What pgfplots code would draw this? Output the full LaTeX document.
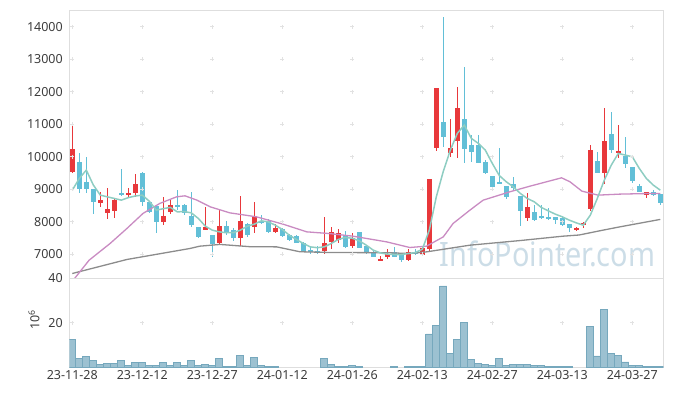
\documentclass[border=0pt]{standalone}
\usepackage{fontspec}
\setmainfont{Noto Sans}
\usepackage{pgfplots}
\pgfplotsset{compat=1.18}
\usepackage{pgfplotstable}
\definecolor{upc}{HTML}{E8383B}
\definecolor{dnc}{HTML}{62BFD7}
\definecolor{maf}{HTML}{8ECDC2}
\definecolor{mam}{HTML}{C98BC2}
\definecolor{mas}{HTML}{8C8C8C}
\definecolor{volf}{HTML}{9CC1D1}
\definecolor{vold}{HTML}{76A8BD}
\definecolor{frame}{HTML}{DEDEDE}
\definecolor{gridp}{HTML}{E2E2E2}
\definecolor{txt}{HTML}{3C3C3C}
\definecolor{wm}{HTML}{CCDDE7}

\pgfplotstableread{
i o h l c
0 9535 10970 9500 10225
4 8580 8919 8457 8663
5 8272 9024 8078 8386
6 8334 8700 8100 8663
8 8817 9024 8765 8870
9 8888 9464 8765 9147
13 7995 8765 7893 8170
14 8303 8685 8250 8500
19 7739 8438 7739 7831
21 7330 8377 7300 7862
24 7483 8787 7246 8016
26 7840 8592 7637 8170
29 7687 7924 7650 7791
36 7102 8150 7000 7330
37 7379 7822 7145 7678
38 7431 7760 7330 7637
40 7246 7637 7200 7483
44 6805 6938 6775 6855
45 6917 7145 6846 7000
48 6806 7163 6790 7062
50 6990 7246 6950 7185
51 7145 9310 7070 9310
52 10256 12113 10180 12113
54 10120 11158 9997 10256
55 10490 12153 9948 11497
65 8100 8888 8016 8438
72 7739 7830 7720 7810
73 7893 7995 7800 7964
74 8377 10357 8316 10203
76 9504 11487 9147 10480
78 10120 10973 9950 10172
82 8817 8920 8715 8910
}\upT

\pgfplotstableread{
i o h l c
1 9843 10101 8870 8993
2 9227 9978 8870 8993
3 8993 9000 8232 8611
7 8870 9609 8790 8817
10 9486 9535 8478 8611
11 8611 8640 8254 8303
12 8478 8480 7637 7995
15 8500 8971 8355 8457
16 8500 8530 8200 8272
17 8180 8919 7840 7893
18 7822 7840 7500 7533
20 7585 7600 6898 7299
22 7862 8016 7585 7656
23 7739 7791 7410 7483
25 7924 7950 7514 7585
27 8016 8200 7915 7986
28 8016 8070 7650 7687
30 7770 7800 7520 7554
31 7585 7630 7400 7431
32 7554 7600 7330 7348
33 7348 7360 7080 7102
34 7123 7225 7000 7071
35 7110 7260 7000 7080
39 7585 7708 7200 7225
41 7678 7690 7180 7194
42 7246 7260 7000 7052
43 7052 7123 6900 6917
46 7062 7206 6900 6917
47 6960 7030 6763 6815
49 7071 7145 6990 7020
53 11057 14290 10287 10613
56 11158 12769 9812 10225
57 10357 10665 9843 10151
58 10357 10675 9812 9812
59 9843 9895 9464 9486
60 9402 9420 9010 9054
61 9227 10256 9156 9156
62 9094 9110 8703 8746
63 9156 9380 8990 9024
64 8787 8800 7862 8334
66 8303 8509 8030 8047
67 8190 8509 8070 8110
68 8150 8407 8060 8080
69 8130 8150 7924 8056
70 8100 8150 7862 7900
71 7924 7930 7687 7791
75 9864 10151 9486 9486
77 10696 11384 10101 10203
79 10028 10595 9640 9772
80 9670 9690 9196 9258
81 9094 9150 8900 8919
83 8900 8990 8780 8826
84 8848 8860 8509 8580
}\dnT

\pgfplotstableread{
i v
0 8970
1 9330
2 9587
3 9130
4 8817
5 8765
6 8715
7 8663
8 8740
9 8790
10 8817
11 8630
12 8355
13 8400
14 8440
15 8303
16 8310
17 8272
18 8100
19 7862
20 7739
21 7687
22 7660
23 7660
24 7739
25 7862
26 7924
27 8026
28 7995
29 7893
30 7760
31 7585
32 7453
33 7330
34 7225
35 7200
36 7225
37 7330
38 7453
39 7514
40 7490
41 7410
42 7277
43 7123
44 7040
45 7000
46 6990
47 6990
48 7020
49 7050
50 7150
51 7739
52 8765
53 9550
54 10200
55 10717
56 10973
57 10564
58 10410
59 10203
60 9793
61 9420
62 9227
63 9073
64 8870
65 8715
66 8611
67 8438
68 8334
69 8232
70 8150
71 8047
72 7964
73 7893
74 8200
75 8715
76 9279
77 9741
78 10100
79 10049
80 9997
81 9640
82 9332
83 9125
84 8970
}\maA

\pgfplotstableread{
i v
0 6165
2.4 6815
5.4 7330
7.8 7791
10.1 8254
12.5 8562
14.9 8765
16.1 8796
17.8 8663
19.7 8457
22.5 8272
26.3 8150
30.1 7924
33.5 7687
36.6 7637
40.1 7554
44.9 7379
48.2 7206
50.6 7246
53 7533
54.4 7945
56.8 8355
58.7 8663
62.5 8919
65.4 9094
69.9 9350
71.1 9227
72.8 8940
75.1 8817
78.2 8848
83 8870
84 8870
}\maB

\pgfplotstableread{
i v
0 6406
7.8 6837
16.8 7175
18.2 7246
21.1 7300
25.4 7230
29.2 7225
32.5 7075
36.8 7052
45 7045
48.2 7020
50.6 7071
56.8 7277
64 7420
70.1 7554
72.4 7590
75.8 7739
78.2 7840
84 8070
}\maC

\pgfplotstableread{
i v
0 12.6
1 4.0
2 4.9
3 3.1
4 1.3
5 1.8
6 1.8
7 3.1
8 0.9
9 2.2
10 2.2
11 0.9
12 0.9
13 2.2
14 0.9
15 2.2
16 0.9
17 3.1
18 0.9
19 1.3
20 0.9
21 4.0
22 0.4
23 0.4
24 5.4
25 0.9
26 4.5
27 0.9
28 0.4
29 0.4
36 4.0
37 1.3
38 0.4
39 0.4
40 0.9
41 0.4
46 0.4
48 0.4
49 0.4
50 0.4
51 15.0
52 19.0
53 36.6
54 6.4
55 12.7
56 20.2
57 3.6
58 1.8
59 1.3
60 0.9
61 4.0
62 0.9
63 1.3
64 1.3
65 1.3
66 0.9
67 0.9
68 0.4
69 0.4
70 0.4
71 0.4
74 18.4
75 5.1
76 26.1
77 6.4
78 5.5
79 2.4
80 0.9
81 0.9
82 0.4
83 0.4
84 0.4
}\volT

\pgfplotsset{
  panel/.style={
    scale only axis, anchor=south west, width=594pt,
    xmin=-0.43, xmax=84.43,
    axis line style={draw=frame, line width=0.8pt},
    major tick length=0pt,
    tick style={draw=none},
    ticklabel style={font=\fontsize{12.5}{14}\selectfont, text=txt},
    /pgf/number format/assume math mode=true,
    /pgf/number format/1000 sep={},
    scaled y ticks=false,
    yticklabel style={xshift=-3pt},
    xtick={0,10,20,30,40,50,60,70,80},
  },
  plusmk/.style={only marks, mark=+, mark size=2pt, gridp, line width=0.6pt, forget plot},
}

\begin{document}
\begin{tikzpicture}[x=1pt,y=1pt]
\useasboundingbox (0,0) rectangle (673,396);
\node[anchor=base, text=wm, font=\fontsize{33.6}{36}\selectfont, xscale=0.86, inner sep=0pt] at (547.5,129.3) {InfoPointer.com};

\begin{axis}[panel, at={(69.3pt,117.7pt)}, height=268.3pt,
  ymin=6258, ymax=14514, ytick={7000,8000,9000,10000,11000,12000,13000,14000},
  xticklabels={}]
\pgfplotsinvokeforeach{0,10,20,30,40,50,60,70,80}{
  \addplot[plusmk] coordinates {(#1,7000)(#1,8000)(#1,9000)(#1,10000)(#1,11000)(#1,12000)(#1,13000)(#1,14000)};
}
% wicks and bodies
\addplot[draw=none, mark=none, forget plot, error bars/.cd, y dir=both, y explicit, error mark=none,
  error bar style={draw=upc, line width=1pt}]
  table[x=i, y expr={(\thisrow{h}+\thisrow{l})/2}, y error expr={(\thisrow{h}-\thisrow{l})/2}] {\upT};
\addplot[draw=none, mark=none, forget plot, error bars/.cd, y dir=both, y explicit, error mark=none,
  error bar style={draw=upc, line width=5pt}]
  table[x=i, y expr={(\thisrow{o}+\thisrow{c})/2}, y error expr={max(abs(\thisrow{c}-\thisrow{o})/2,18)}] {\upT};
\addplot[draw=none, mark=none, forget plot, error bars/.cd, y dir=both, y explicit, error mark=none,
  error bar style={draw=dnc, line width=1pt}]
  table[x=i, y expr={(\thisrow{h}+\thisrow{l})/2}, y error expr={(\thisrow{h}-\thisrow{l})/2}] {\dnT};
\addplot[draw=none, mark=none, forget plot, error bars/.cd, y dir=both, y explicit, error mark=none,
  error bar style={draw=dnc, line width=5pt}]
  table[x=i, y expr={(\thisrow{o}+\thisrow{c})/2}, y error expr={max(abs(\thisrow{c}-\thisrow{o})/2,18)}] {\dnT};
% moving averages
\addplot[mas, line width=1.3pt, mark=none] table[x=i,y=v] {\maC};
\addplot[mam, line width=1.3pt, mark=none] table[x=i,y=v] {\maB};
\addplot[maf, line width=1.5pt, mark=none] table[x=i,y=v] {\maA};
\end{axis}

\begin{axis}[panel, at={(69.3pt,28.7pt)}, height=89pt,
  ymin=0, ymax=40, ytick={20,40},
  xticklabels={23-11-28,23-12-12,23-12-27,24-01-12,24-01-26,24-02-13,24-02-27,24-03-13,24-03-27},
  ylabel={10\textsuperscript{6}},
  ylabel style={at={(axis description cs:-0.0594,0.531)}, anchor=center, font=\fontsize{12.5}{14}\selectfont, text=txt}]
\addplot[plusmk] coordinates {(0,20)(10,20)(20,20)(30,20)(40,20)(50,20)(60,20)(70,20)(80,20)};
\addplot[ybar, bar width=1, fill=volf, draw=vold, line width=0.7pt] table[x=i,y=v] {\volT};
\end{axis}
\end{tikzpicture}
\end{document}
